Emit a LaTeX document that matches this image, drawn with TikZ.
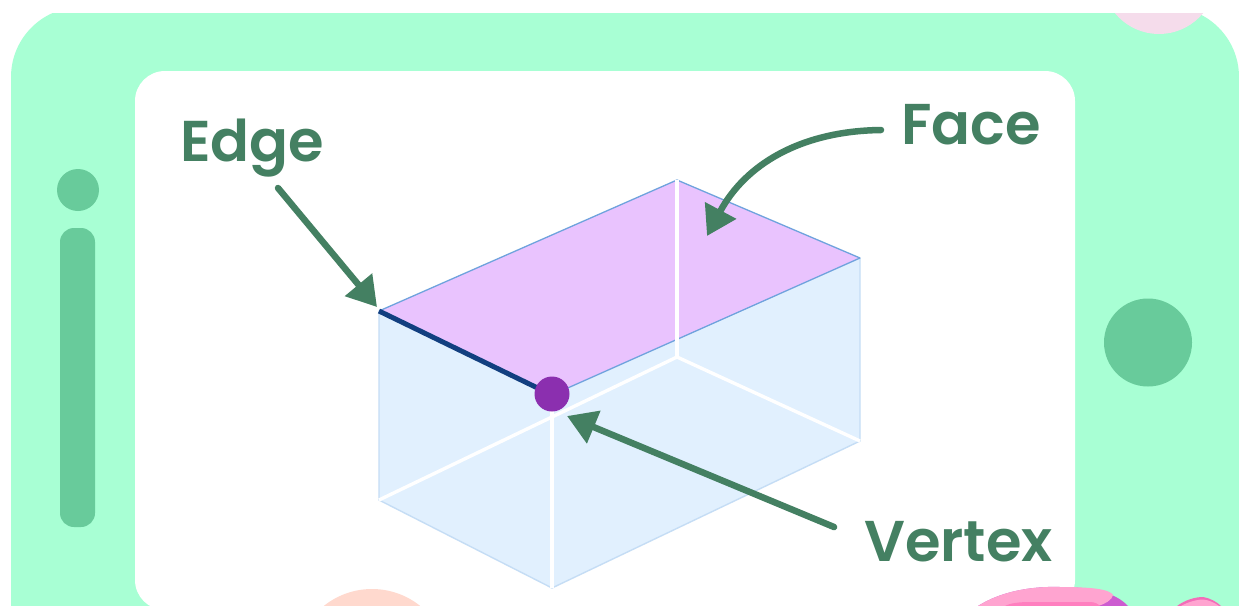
\documentclass[tikz,border=0pt]{standalone}
\usepackage{fontspec}
\newfontfamily\labelfont{Poppins SemiBold}
\usetikzlibrary{arrows.meta}
\definecolor{frame}{HTML}{A8FFD4}
\definecolor{frameDark}{HTML}{68CB9B}
\definecolor{ink}{HTML}{448062}
\definecolor{boxFill}{HTML}{E1F0FE}
\definecolor{boxEdge}{HTML}{C5DDF5}
\definecolor{faceFill}{HTML}{E9C3FE}
\definecolor{faceEdge}{HTML}{6FA3DD}
\definecolor{edgeDark}{HTML}{123F80}
\definecolor{vertexFill}{HTML}{8B2FAF}
\definecolor{blush}{HTML}{F5DCEB}
\definecolor{peach}{HTML}{FFD9CE}
\definecolor{blobPurple}{HTML}{CC5CD0}
\definecolor{blobPink}{HTML}{FFA4D0}
\definecolor{blobDeep}{HTML}{FF7FBF}
\definecolor{blobMagenta}{HTML}{F26DB8}
\tikzset{
  label text/.style={text=ink,inner sep=0pt,anchor=base west,
    font=\labelfont\fontsize{57.5}{57.5}\selectfont},
  pointer/.style={draw=ink,line width=6.5pt,line cap=round,
    -{Triangle[length=29pt,width=34pt,fill=ink]}},
  inner line/.style={draw=white,line width=3.4pt},
}
\begin{document}
\begin{tikzpicture}[x=1pt,y=-1pt]
\useasboundingbox (0,0) rectangle (1239,605);
\fill[white] (0,0) rectangle (1239,605);
\begin{scope}
  \clip (0,13) rectangle (1239,605);
  % phone body
  \fill[frame,rounded corners=70pt] (11,7) rectangle (1239,700);
  % decorations around the screen
  \fill[blush] (1159,-23) circle[radius=57];
  \fill[white,rounded corners=30pt] (135,71) rectangle (1075,610);
  \fill[frameDark] (78,190) circle[radius=21];
  \fill[frameDark,rounded corners=14pt] (60,228) rectangle (95,527);
  \fill[frameDark] (1148,342.5) circle[radius=44];
  \fill[peach] (372,666) circle[radius=77];
  % pink blobs along the lower edge
  \fill[blobPurple]
    (978,606) .. controls (1000,592) and (1030,586) .. (1060,587)
    .. controls (1090,587) and (1115,592) .. (1128,606) -- cycle;
  \fill[blobPink]
    (978,606) .. controls (1000,592) and (1030,586) .. (1060,587)
    .. controls (1090,587) and (1110,589) .. (1113,595)
    .. controls (1112,600) and (1105,604) .. (1098,606) -- cycle;
  \fill[blobDeep]
    (1005,606) .. controls (1010,603) and (1020,602) .. (1030,602)
    -- (1090,602) .. controls (1095,602) and (1098,604) .. (1100,606) -- cycle;
  \fill[blobMagenta]
    (1177,606) .. controls (1185,600) and (1195,597) .. (1203,597)
    .. controls (1210,598) and (1217,602) .. (1221,606) -- cycle;
  \fill[blobPink]
    (1181,606) .. controls (1188,602) and (1197,599.5) .. (1203,599.5)
    .. controls (1209,600) and (1215,603) .. (1219,606) -- cycle;
\end{scope}
% corner points of the box
\coordinate (tl) at (379,311);
\coordinate (tb) at (677,180);
\coordinate (tr) at (860,258);
\coordinate (tf) at (552,395);
\coordinate (bl) at (379,500);
\coordinate (bb) at (677,357);
\coordinate (br) at (860,441);
\coordinate (bf) at (552,588);
% box body
\fill[boxFill] (tl) -- (tb) -- (tr) -- (br) -- (bf) -- (bl) -- cycle;
\draw[boxEdge,line width=1.4pt,line join=round] (tl) -- (bl) -- (bf) -- (br) -- (tr);
% top face
\fill[faceFill] (tl) -- (tb) -- (tr) -- (tf) -- cycle;
\draw[faceEdge,line width=1.3pt,line join=round] (tl) -- (tb) -- (tr) -- (tf);
% hidden and front edges
\draw[inner line] (tb) -- (bb);
\draw[inner line] (bb) -- (br);
\draw[inner line] (bb) -- (bl);
\draw[inner line] (tf) -- (bf);
% highlighted edge and vertex
\draw[edgeDark,line width=5pt] (tl) -- (tf);
\node[circle,fill=vertexFill,minimum size=35pt,inner sep=0pt] (vertex dot) at (552,394) {};
% labels
\node[label text] (edge label) at (180,161) {Edge};
\node[label text] (face label) at (901,144) {Face};
\node[label text] (vertex label) at (864,561) {Vertex};
% pointer ends
\coordinate (edge start) at (278,188);
\coordinate (edge tip) at (377,307);
\coordinate (face start) at (881,130);
\coordinate (face tip) at (707,236);
\coordinate (vertex start) at (834,527);
\coordinate (vertex tip) at (567,416);
\draw[pointer] (edge start) -- (edge tip);
\draw[pointer] (face start) .. controls (800,131) and (745,165) .. (face tip);
\draw[pointer] (vertex start) -- (vertex tip);
\end{tikzpicture}
\end{document}
